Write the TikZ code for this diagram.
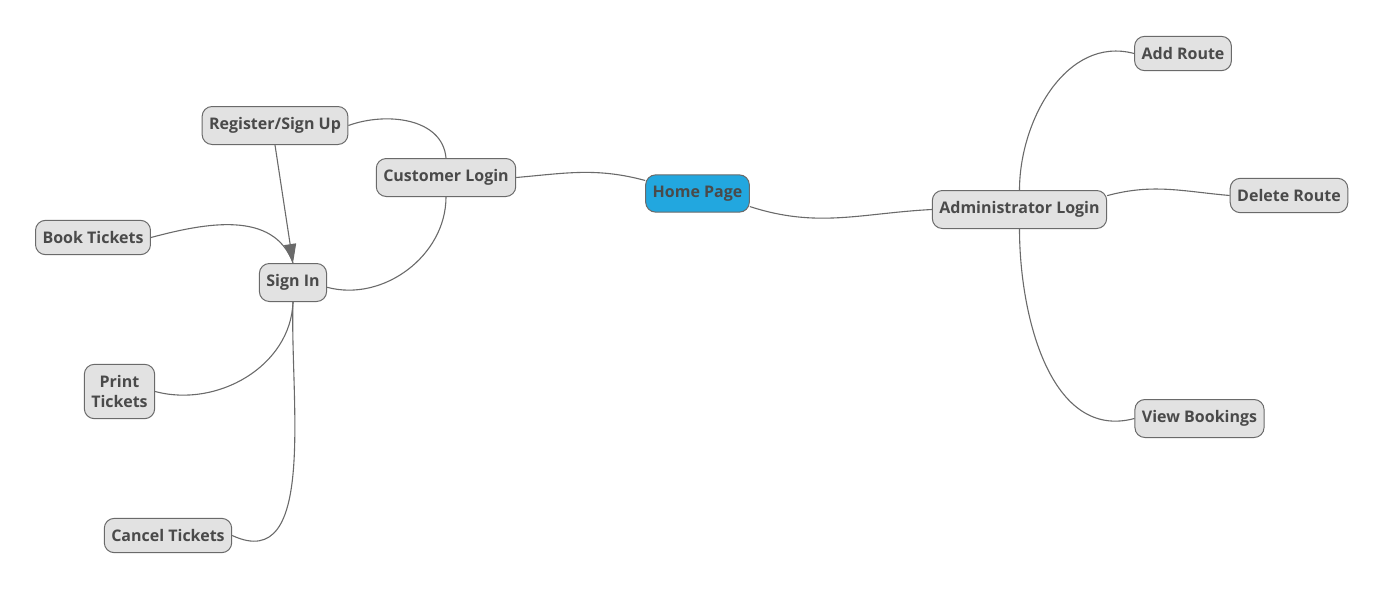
\documentclass[tikz,border=0pt]{standalone}
\usepackage{fontspec}
\setmainfont{Open Sans}
\usetikzlibrary{arrows.meta}

\definecolor{boxgray}{HTML}{E2E2E2}
\definecolor{homeblue}{HTML}{22A7DF}
\definecolor{linegray}{HTML}{6A6A6A}
\definecolor{textgray}{HTML}{4A4A4A}

\begin{document}
\begin{tikzpicture}[x=1pt,y=1pt]
      \tikzset{
      topic/.style={draw=linegray, fill=boxgray, rounded corners=10pt, line width=1pt,
        text=textgray, font=\fontsize{16}{20}\selectfont\bfseries,
        inner xsep=7pt, inner ysep=11pt, align=center},
      homebox/.style={topic, fill=homeblue},
      link/.style={draw=linegray, line width=1.1pt},
      }
      \useasboundingbox (0,0) rectangle (1385,-592);

      %centre
      \node[homebox] (home) at (697.5,-193.5) {Home Page};

      %customer side
      \node[topic] (custlogin) at (446,-177.5) {Customer Login};
      \node[topic] (register) at (275,-125.5) {Register/Sign Up};
      \node[topic] (signin) at (293,-282.5) {Sign In};
      \node[topic] (book) at (93,-237.5) {Book Tickets};
      \node[topic] (print) at (119.5,-391.5) {Print\\Tickets};
      \node[topic] (cancel) at (168,-535.5) {Cancel Tickets};

      %administrator side
      \node[topic] (adminlogin) at (1019.5,-209.5) {Administrator Login};
      \node[topic] (addroute) at (1183,-53.5) {Add Route};
      \node[topic] (delroute) at (1289,-195.5) {Delete Route};
      \node[topic] (viewbook) at (1199.5,-418.5) {View Bookings};

      %links
      \draw[link] (custlogin.east) to[out=5,in=165] (home.166);
      \draw[link] (home.-14) to[out=-18,in=183] (adminlogin.west);
      \draw[link] (custlogin.north) to[out=95,in=20] (register.east);
      \draw[link] (custlogin.south) to[out=-90,in=-15] (signin.-8);
      \draw[link, -{Triangle[length=19pt,width=12pt]}] (register.south) -- (signin.north);
      \draw[link] (book.east) to[out=15,in=110] (signin.north);
      \draw[link] (signin.south) to[out=-92,in=-15] (print.east);
      \draw[link] (signin.south) to[out=-92,in=-25] (cancel.east);
      \draw[link] (adminlogin.north) to[out=90,in=165] (addroute.west);
      \draw[link] (adminlogin.9) to[out=15,in=175] (delroute.west);
      \draw[link] (adminlogin.south) to[out=-90,in=195] (viewbook.west);
\end{tikzpicture}
\end{document}
